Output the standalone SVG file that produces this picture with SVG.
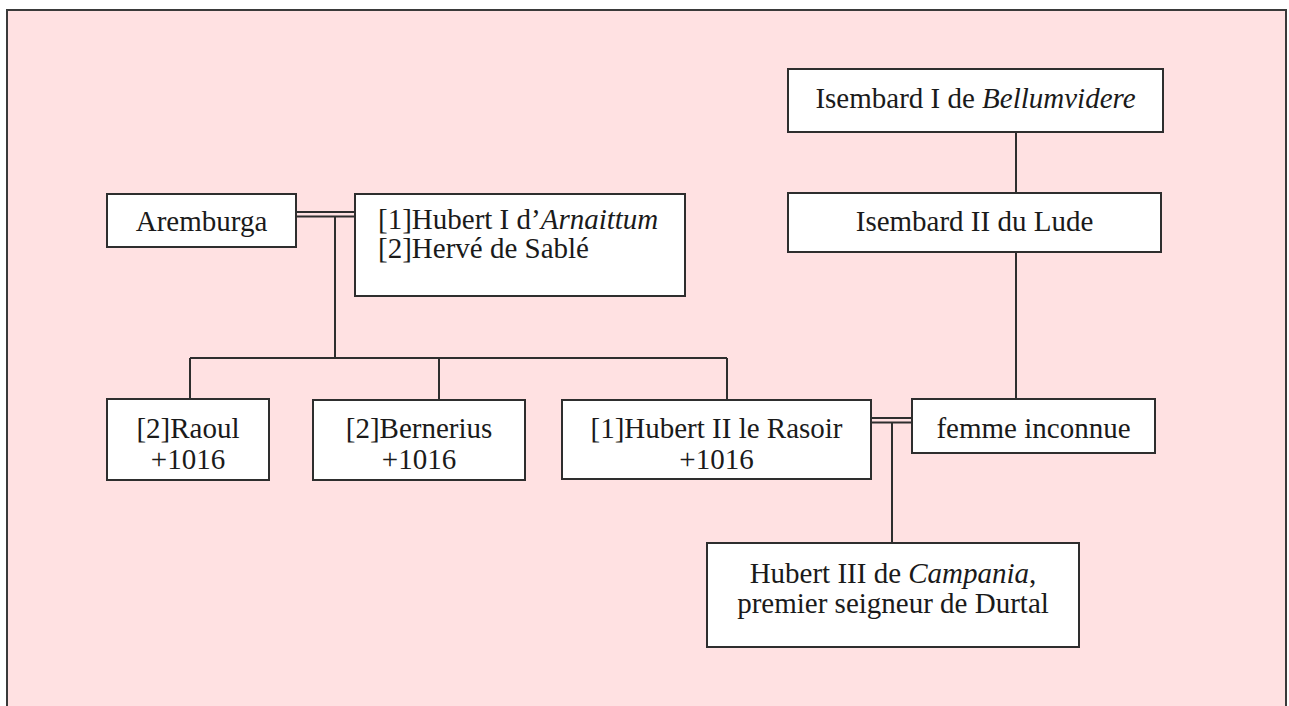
<svg xmlns="http://www.w3.org/2000/svg" width="1289" height="706" viewBox="0 0 1289 706">
<style>
.box{fill:#ffffff;stroke:#2e2e2e;stroke-width:2}
.ln{stroke:#2e2e2e;stroke-width:2;fill:none}
.c{text-anchor:middle}
.i{font-style:italic}
</style>
<rect x="0" y="0" width="1289" height="706" fill="#ffffff"/>
<rect x="7" y="10" width="1279" height="710" fill="#ffe1e2" stroke="#3a3a3a" stroke-width="2"/>
<g id="connectors">
<line class="ln" x1="296" y1="212" x2="355" y2="212"/>
<line class="ln" x1="296" y1="216.5" x2="355" y2="216.5"/>
<line class="ln" x1="335" y1="216.5" x2="335" y2="358"/>
<line class="ln" x1="190" y1="358" x2="727" y2="358"/>
<line class="ln" x1="190" y1="358" x2="190" y2="399"/>
<line class="ln" x1="439" y1="358" x2="439" y2="400"/>
<line class="ln" x1="727" y1="358" x2="727" y2="400"/>
<line class="ln" x1="1016" y1="132" x2="1016" y2="193"/>
<line class="ln" x1="1016" y1="252" x2="1016" y2="399"/>
<line class="ln" x1="871" y1="418" x2="912" y2="418"/>
<line class="ln" x1="871" y1="422.5" x2="912" y2="422.5"/>
<line class="ln" x1="892" y1="422.5" x2="892" y2="543"/>
</g>
<g font-family="Liberation Serif, DejaVu Serif, serif" font-size="29" fill="#1a1a1a">
<g id="aremburga">
<rect class="box" x="107" y="194" width="189" height="53"/>
<text class="c" x="201.5" y="231">Aremburga</text>
</g>
<g id="hubert1">
<rect class="box" x="355" y="194" width="330" height="102"/>
<text x="378" y="229">[1]Hubert I d’<tspan class="i">Arnaittum</tspan></text>
<text x="378" y="258">[2]Hervé de Sablé</text>
</g>
<g id="isembard1">
<rect class="box" x="788" y="69" width="375" height="63"/>
<text class="c" x="975.5" y="108">Isembard I de <tspan class="i">Bellumvidere</tspan></text>
</g>
<g id="isembard2">
<rect class="box" x="788" y="193" width="373" height="59"/>
<text class="c" x="974.5" y="231">Isembard II du Lude</text>
</g>
<g id="raoul">
<rect class="box" x="107" y="399" width="162" height="81"/>
<text class="c" x="188" y="438">[2]Raoul</text>
<text class="c" x="188" y="469">+1016</text>
</g>
<g id="bernerius">
<rect class="box" x="313" y="400" width="212" height="80"/>
<text class="c" x="419" y="438">[2]Bernerius</text>
<text class="c" x="419" y="469">+1016</text>
</g>
<g id="hubert2">
<rect class="box" x="562" y="400" width="309" height="79"/>
<text class="c" x="716.5" y="438">[1]Hubert II le Rasoir</text>
<text class="c" x="716.5" y="469">+1016</text>
</g>
<g id="femme">
<rect class="box" x="912" y="399" width="243" height="54"/>
<text class="c" x="1033.5" y="438">femme inconnue</text>
</g>
<g id="hubert3">
<rect class="box" x="707" y="543" width="372" height="104"/>
<text class="c" x="893" y="583">Hubert III de <tspan class="i">Campania</tspan>,</text>
<text class="c" x="893" y="613">premier seigneur de Durtal</text>
</g>
</g>
</svg>
